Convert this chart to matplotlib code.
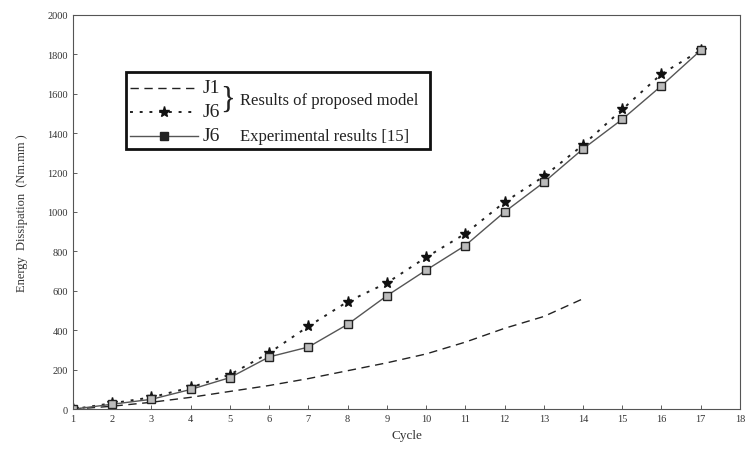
import matplotlib
matplotlib.use("Agg")
import matplotlib.pyplot as plt
from matplotlib.lines import Line2D
from matplotlib.patches import Rectangle

plt.rcParams['font.family'] = ['Liberation Serif', 'DejaVu Serif']

cycles_j1 = [1, 2, 3, 4, 5, 6, 7, 8, 9, 10, 11, 12, 13, 14]
j1_model = [0, 15, 35, 60, 90, 120, 155, 195, 235, 280, 340, 410, 470, 560]

cycles_j6 = [1, 2, 3, 4, 5, 6, 7, 8, 9, 10, 11, 12, 13, 14, 15, 16, 17]
j6_model = [0, 30, 60, 110, 175, 285, 420, 545, 640, 770, 890, 1050, 1180, 1340, 1520, 1700, 1820]
j6_exp = [0, 25, 50, 100, 160, 265, 315, 430, 575, 705, 830, 1000, 1150, 1320, 1470, 1640, 1820]

x_ticks = list(range(1, 19))
y_ticks = list(range(0, 2001, 200))

fig = plt.figure(figsize=(7.52, 4.64), dpi=100)
ax = fig.add_axes([0.097, 0.116, 0.887, 0.850])

ink = '#222222'
ax.plot(cycles_j1, j1_model, linestyle=(0, (6, 4)), color=ink, linewidth=1.0)
ax.plot(cycles_j6, j6_model, linestyle=(0, (1.5, 3.5)), color=ink, linewidth=1.4,
        marker='*', markersize=8, markerfacecolor='#111111', markeredgecolor='#111111')
ax.plot(cycles_j6, j6_exp, linestyle='-', color='#555555', linewidth=1.0,
        marker='s', markersize=5.5, markerfacecolor='#bbbbbb', markeredgecolor='#222222',
        markeredgewidth=1.0)

ax.set_xlim(1, 18)
ax.set_ylim(0, 2000)
ax.set_xticks(x_ticks)
ax.set_yticks(y_ticks)
ax.tick_params(axis='both', labelsize=7.5, length=3, width=0.6, color='#444444',
               labelcolor='#333333', direction='in')
for s in ax.spines.values():
    s.set_linewidth(0.8)
    s.set_color('#555555')
ax.set_xlabel('Cycle', fontsize=9.5, color='#333333')
ax.set_ylabel('Energy  Dissipation  (Nm.mm )', fontsize=9, color='#333333', labelpad=14)

# custom legend
tr = ax.transAxes
ax.add_patch(Rectangle((0.080, 0.660), 0.455, 0.195, transform=tr, fill=False,
                       edgecolor='#111111', linewidth=2.0, zorder=5))
rows = [0.815, 0.754, 0.693]
ax.add_line(Line2D([0.086, 0.188], [rows[0], rows[0]], transform=tr,
                   linestyle=(0, (6, 4)), color=ink, linewidth=1.0))
ax.add_line(Line2D([0.086, 0.188], [rows[1], rows[1]], transform=tr,
                   linestyle=(0, (1.5, 3.5)), color=ink, linewidth=1.4))
ax.add_line(Line2D([0.137], [rows[1]], transform=tr, marker='*', markersize=8,
                   color='#111111', linestyle='none'))
ax.add_line(Line2D([0.086, 0.188], [rows[2], rows[2]], transform=tr,
                   linestyle='-', color='#555555', linewidth=1.0))
ax.add_line(Line2D([0.137], [rows[2]], transform=tr, marker='s', markersize=5.5,
                   markerfacecolor='#222222', markeredgecolor='#222222', linestyle='none'))
for r, lab in zip(rows, ['J1', 'J6', 'J6']):
    ax.text(0.194, r, lab, transform=tr, fontsize=14, va='center', ha='left', color='#222222')
ax.text(0.221, (rows[0] + rows[1]) / 2, '}', transform=tr, fontsize=22, va='center',
        ha='left', color='#222222')
ax.text(0.250, 0.784, 'Results of proposed model', transform=tr, fontsize=12,
        va='center', ha='left', color='#222222')
ax.text(0.250, rows[2], 'Experimental results [15]', transform=tr, fontsize=12,
        va='center', ha='left', color='#222222')

fig.savefig('out.png', dpi=100)
